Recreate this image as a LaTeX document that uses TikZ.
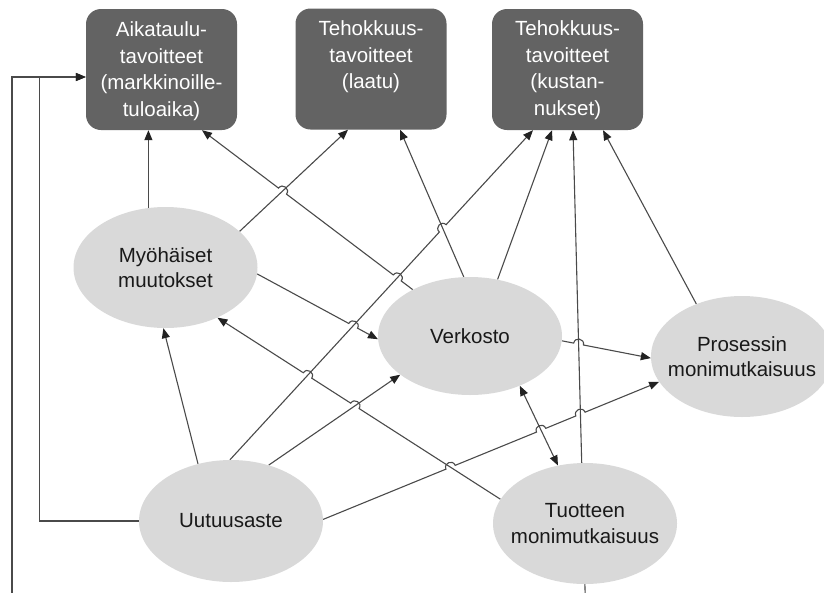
\documentclass[tikz,border=0pt]{standalone}
\usepackage{fontspec}
\setmainfont{Liberation Sans}
\usetikzlibrary{shapes.geometric,arrows.meta,calc}
\pgfdeclarelayer{bg}
\pgfsetlayers{bg,main}

\definecolor{goalfill}{HTML}{636363}
\definecolor{factorfill}{HTML}{D9D9D9}
\definecolor{wire}{HTML}{4A4A4A}
\definecolor{tipcol}{HTML}{222222}

\tikzset{
  goalbox/.style={fill=goalfill, rounded corners=15pt, minimum width=151pt,
    minimum height=121pt, inner sep=0pt},
  goaltext/.style={anchor=north, align=center, text=white, inner sep=0pt,
    font=\fontsize{20.5}{26.5}\selectfont},
  factor/.style={ellipse, fill=factorfill, minimum width=184pt, minimum height=121pt,
    inner sep=0pt},
  factortext/.style={align=center, inner sep=0pt, text=black!90,
    font=\fontsize{20.5}{25.5}\selectfont},
  link/.style={draw=wire, line width=1.1pt,
    -{Triangle[length=10pt,width=8pt,color=tipcol]}},
  biglink/.style={draw=wire, line width=1.1pt,
    {Triangle[length=10pt,width=8pt,color=tipcol]}-{Triangle[length=10pt,width=8pt,color=tipcol]}},
  % line jumps over a crossing line: start, crossing point, end
  hopL/.style n args={3}{insert path={-- ($(#2)!5pt!(#1)$)
      to[bend left=90,looseness=1.7] ($(#2)!5pt!(#3)$)}},
  hopR/.style n args={3}{insert path={-- ($(#2)!5pt!(#1)$)
      to[bend right=90,looseness=1.7] ($(#2)!5pt!(#3)$)}},
}

\begin{document}
\begin{tikzpicture}[x=1pt,y=-1pt]
\useasboundingbox (0,0) rectangle (824,592);
\clip (0,0) rectangle (824,592);

% goals
\node[goalbox] (b1) at (161.5,69.5) {};
\node[goalbox] (b2) at (371,69) {};
\node[goalbox] (b3) at (567.5,69.5) {};
\node[goaltext] (b1t) at (161.5,21.5) {Aikataulu-\\tavoitteet\\(markkinoille-\\tuloaika)};
\node[goaltext] (b2t) at (371,20.5) {Tehokkuus-\\tavoitteet\\(laatu)};
\node[goaltext] (b3t) at (567.5,20.5) {Tehokkuus-\\tavoitteet\\(kustan-\\nukset)};

% factors
\node[factor] (myo)  at (165.5,267.5) {};
\node[factor, minimum height=118pt] (verk) at (470,336) {};
\node[factor, minimum width=182pt] (pros) at (742,356.5) {};
\node[factor, minimum height=122pt] (uutu) at (231,521) {};
\node[factor] (tuot) at (585,523.5) {};
\node[factortext] (myot)  at (myo)  {Myöhäiset\\muutokset};
\node[factortext] (verkt) at (verk) {Verkosto};
\node[factortext] (prost) at (pros) {Prosessin\\monimutkaisuus};
\node[factortext] (uutut) at (uutu) {Uutuusaste};
\node[factortext] (tuott) at (tuot) {Tuotteen\\monimutkaisuus};

% connector end points
\coordinate (e1s) at (myo.106);
\coordinate (e2s) at (verk.141);  \coordinate (e2t) at ([xshift=40.5pt]b1.south);
\coordinate (e3s) at (myo.26.7);  \coordinate (e3t) at ([xshift=-23pt]b2.south);
\coordinate (e4s) at (verk.96.8); \coordinate (e4t) at ([xshift=29pt]b2.south);
\coordinate (e5s) at (uutu.91);   \coordinate (e5t) at ([xshift=-34.5pt]b3.south);
\coordinate (e6s) at (verk.64.2); \coordinate (e6t) at ([xshift=-15.5pt]b3.south);
\coordinate (e7s) at (585.3,600); \coordinate (e7t) at ([xshift=5.5pt]b3.south);
\coordinate (e8s) at (pros.131.3);\coordinate (e8t) at ([xshift=35.5pt]b3.south);
\coordinate (e9s) at (myo.-4.6);  \coordinate (e9t) at (verk.182.5);
\coordinate (e10s) at (tuot.164.5); \coordinate (e10t) at (myo.-44.5);
\coordinate (e11s) at (uutu.120.4); \coordinate (e11t) at (myo.268.6);
\coordinate (e12s) at (uutu.56.5);  \coordinate (e12t) at (verk.209.9);
\coordinate (e13s) at (uutu.1.9);   \coordinate (e13t) at (pros.197.5);
\coordinate (e14s) at (verk.-3.7);  \coordinate (e14t) at (pros.181);
\coordinate (e15s) at (verk.-45.6); \coordinate (e15t) at (tuot.115.6);
\coordinate (b1in) at ([yshift=-7.5pt]b1.west);
\coordinate (extleft) at (12,600);

% crossings where one line jumps over another
\coordinate (x2a) at (intersection of e2s--e2t and e5s--e5t);
\coordinate (x2b) at (intersection of e2s--e2t and e3s--e3t);
\coordinate (x5)  at (intersection of e5s--e5t and e4s--e4t);
\coordinate (x9)  at (intersection of e9s--e9t and e5s--e5t);
\coordinate (x10a) at (intersection of e10s--e10t and e12s--e12t);
\coordinate (x10b) at (intersection of e10s--e10t and e5s--e5t);
\coordinate (x13a) at (intersection of e13s--e13t and e10s--e10t);
\coordinate (x13b) at (intersection of e13s--e13t and e15s--e15t);
\coordinate (x13c) at (intersection of e13s--e13t and e7s--e7t);
\coordinate (x14) at (intersection of e14s--e14t and e7s--e7t);

\begin{pgfonlayer}{bg}
  % into the schedule goal
  \draw[link] (e1s) -- (e1s |- b1.south);
  \draw[link] (e2s) [hopR={e2s}{x2a}{e2t}] [hopR={e2s}{x2b}{e2t}] -- (e2t);
  \draw[link] (uutu.west) -- ++(-99,0) |- (b1in);
  \draw[link] (extleft) |- (b1in);
  % into the quality goal
  \draw[link] (e3s) -- (e3t);
  \draw[link] (e4s) -- (e4t);
  % into the cost goal
  \draw[link] (e5s) [hopL={e5s}{x5}{e5t}] -- (e5t);
  \draw[link] (e6s) -- (e6t);
  \draw[link] (e7s) -- (e7t);
  \draw[link] (e8s) -- (e8t);
  % between the factors
  \draw[link] (e9s) [hopL={e9s}{x9}{e9t}] -- (e9t);
  \draw[link] (e10s) [hopR={e10s}{x10a}{e10t}] [hopR={e10s}{x10b}{e10t}] -- (e10t);
  \draw[link] (e11s) -- (e11t);
  \draw[link] (e12s) -- (e12t);
  \draw[link] (e13s) [hopL={e13s}{x13a}{e13t}] [hopL={e13s}{x13b}{e13t}]
                     [hopL={e13s}{x13c}{e13t}] -- (e13t);
  \draw[link] (e14s) [hopL={e14s}{x14}{e14t}] -- (e14t);
  \draw[biglink] (e15s) -- (e15t);
\end{pgfonlayer}
\end{tikzpicture}
\end{document}
